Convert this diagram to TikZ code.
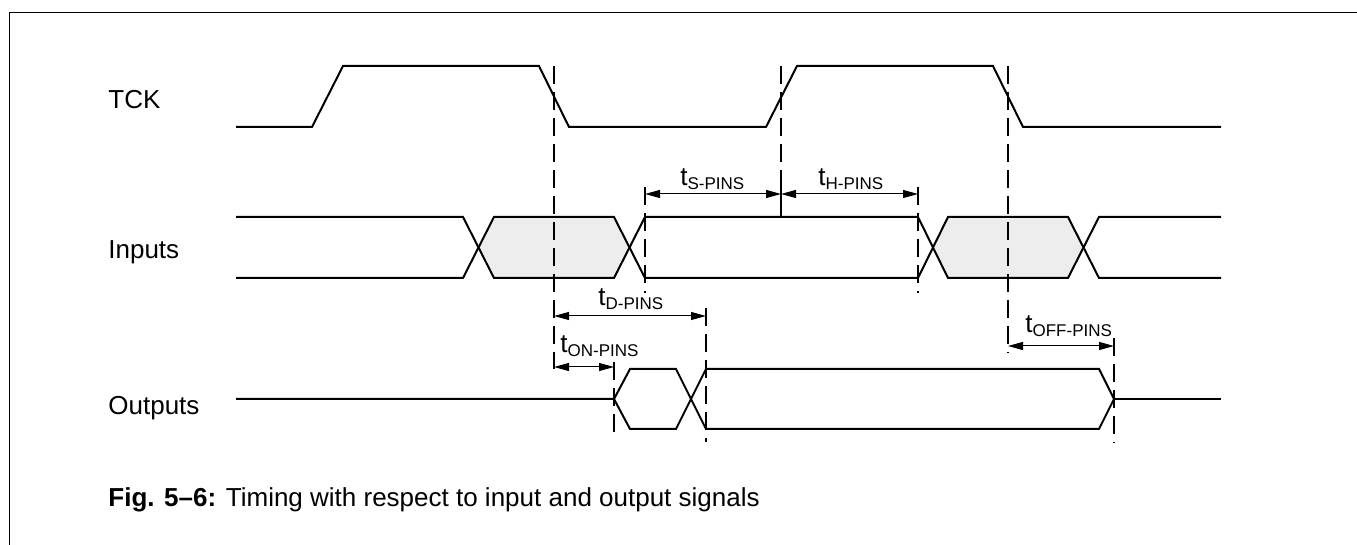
\documentclass[tikz,border=0pt]{standalone}
\usepackage{fontspec}
\setmainfont{Liberation Sans}
\usetikzlibrary{arrows.meta}

\definecolor{holdgray}{gray}{0.93}
\newcommand{\tpin}[1]{t\raisebox{-1.8pt}{\fontsize{8.5}{10}\selectfont #1-PINS}}

\tikzset{
  sig/.style={line width=1pt, line join=miter},
  guide/.style={line width=0.6pt, dash pattern=on 9pt off 4pt},
  dim/.style={line width=0.5pt, {Triangle[length=7.5pt,width=4pt]}-{Triangle[length=7.5pt,width=4pt]}},
  lbl/.style={anchor=base west, inner sep=0pt, font=\fontsize{13}{15}\selectfont}
}

\begin{document}
\begin{tikzpicture}[x=0.5pt,y=-0.5pt]
    \useasboundingbox (0,0) rectangle (1357,545);
    \draw[line width=0.9pt] (9.5,545) -- (9.5,12.5) -- (1357,12.5);

    % signal names and caption
    \node[lbl] (tck) at (108,109) {TCK};
    \node[lbl] (inputs) at (108,259) {Inputs};
    \node[lbl] (outputs) at (108,415) {Outputs};
    \node[lbl] (caption) at (108,507) {\textbf{Fig. 5--6:} Timing with respect to input and output signals};

    % undefined input data
    \fill[holdgray] (478,248) -- (494,217) -- (614,217) -- (629,248) -- (614,278) -- (494,278) -- cycle;
    \fill[holdgray] (933,248) -- (948,217) -- (1068,217) -- (1084,248) -- (1068,278) -- (948,278) -- cycle;

    % waveforms
    \draw[sig] (236,127) -- (312,127) -- (343,66) -- (539,66) -- (569,127) -- (766,127) -- (797,66) -- (993,66) -- (1023,127) -- (1221,127);
    \draw[sig] (236,217) -- (463,217) -- (494,278) -- (614,278) -- (645,217) -- (918,217) -- (948,278) -- (1068,278) -- (1099,217) -- (1221,217);
    \draw[sig] (236,278) -- (463,278) -- (494,217) -- (614,217) -- (645,278) -- (918,278) -- (948,217) -- (1068,217) -- (1099,278) -- (1221,278);
    \draw[sig] (236,399) -- (614,399) -- (630,369) -- (676,369) -- (706,429) -- (1099,429) -- (1114,399);
    \draw[sig] (614,399) -- (630,429) -- (676,429) -- (706,369) -- (1099,369) -- (1114,399);
    \draw[line width=0.6pt] (1114,399) -- (1221,399);

    % reference lines
    \draw[guide] (554,66) coordinate (fall1) -- (554,369) coordinate (fall1b);
    \draw[guide] (1008,66) coordinate (fall2) -- (1008,353);
    \draw[guide] (781,66) -- (781,187) coordinate (rise2);
    \draw[line width=0.6pt] (rise2) -- (781,217);
    \draw[guide] (645,187) coordinate (setup) -- (645,293);
    \draw[guide] (918,187) coordinate (hold) -- (918,293);
    \draw[guide] (706,308) coordinate (valid) -- (706,442);
    \draw[guide] (614,362) coordinate (drive) -- (614,437);
    \draw[guide] (1114,338) coordinate (float) -- (1114,443);

    % timing parameters
    \coordinate (sL) at (645,194);
    \coordinate (sR) at (781,194);
    \coordinate (hR) at (918,194);
    \coordinate (dL) at (554,316);
    \coordinate (dR) at (706,316);
    \coordinate (onL) at (554,367);
    \coordinate (onR) at (614,367);
    \coordinate (offL) at (1008,346);
    \coordinate (offR) at (1114,346);
    \draw[dim] (sL) -- (sR);
    \draw[dim] (sR) -- (hR);
    \draw[dim] (dL) -- (dR);
    \draw[dim] (onL) -- (onR);
    \draw[dim] (offL) -- (offR);

    \node[lbl] (tsu) at (680,186) {\tpin{S}};
    \node[lbl] (th) at (818,186) {\tpin{H}};
    \node[lbl] (td) at (598,306) {\tpin{D}};
    \node[lbl] (ton) at (560,353) {\tpin{ON}};
    \node[lbl] (toff) at (1025,333) {\tpin{OFF}};
\end{tikzpicture}
\end{document}
